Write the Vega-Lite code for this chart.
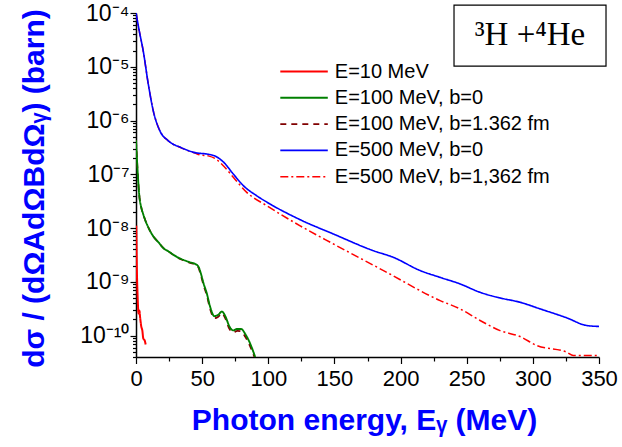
{
  "$schema": "https://vega.github.io/schema/vega-lite/v6.json",
  "width": 463,
  "height": 344,
  "autosize": {"type": "none"},
  "padding": {"left": 136, "top": 13, "right": 23, "bottom": 90},
  "background": "white",
  "config": {
    "font": "Liberation Sans",
    "view": {"stroke": null},
    "axis": {"domainColor": "black", "tickColor": "black", "labelColor": "black", "grid": false, "domainWidth": 1.5, "tickWidth": 1.2}
  },
  "data": {
    "values": [
      {"s": "E=10 MeV", "x": 0.2, "y": 1.11e-8},
      {"s": "E=10 MeV", "x": 0.6, "y": 2.02e-9},
      {"s": "E=10 MeV", "x": 1.2, "y": 5.55e-10},
      {"s": "E=10 MeV", "x": 2.0, "y": 2.57e-10},
      {"s": "E=10 MeV", "x": 2.5, "y": 2.92e-10},
      {"s": "E=10 MeV", "x": 3.2, "y": 2.07e-10},
      {"s": "E=10 MeV", "x": 4.0, "y": 1.47e-10},
      {"s": "E=10 MeV", "x": 4.8, "y": 1.24e-10},
      {"s": "E=10 MeV", "x": 5.5, "y": 8.83e-11},
      {"s": "E=10 MeV", "x": 6.6, "y": 8.1e-11},
      {"s": "E=10 MeV", "x": 7.3, "y": 6.84e-11},

      {"s": "E=500 MeV, b=1,362 fm", "x": 0, "y": 1.0e-4},
      {"s": "E=500 MeV, b=1,362 fm", "x": 2.5, "y": 4.6e-5},
      {"s": "E=500 MeV, b=1,362 fm", "x": 5.5, "y": 1.94e-5},
      {"s": "E=500 MeV, b=1,362 fm", "x": 9.3, "y": 4.75e-6},
      {"s": "E=500 MeV, b=1,362 fm", "x": 13.1, "y": 1.5e-6},
      {"s": "E=500 MeV, b=1,362 fm", "x": 18.1, "y": 6.4e-7},
      {"s": "E=500 MeV, b=1,362 fm", "x": 24.4, "y": 4.2e-7},
      {"s": "E=500 MeV, b=1,362 fm", "x": 34.2, "y": 3.1e-7},
      {"s": "E=500 MeV, b=1,362 fm", "x": 44.6, "y": 2.48e-7},
      {"s": "E=500 MeV, b=1,362 fm", "x": 48.6, "y": 2.29e-7},
      {"s": "E=500 MeV, b=1,362 fm", "x": 54.6, "y": 2.2e-7},
      {"s": "E=500 MeV, b=1,362 fm", "x": 60, "y": 1.95e-7},
      {"s": "E=500 MeV, b=1,362 fm", "x": 66.2, "y": 1.43e-7},
      {"s": "E=500 MeV, b=1,362 fm", "x": 73.7, "y": 8.7e-8},
      {"s": "E=500 MeV, b=1,362 fm", "x": 83.9, "y": 4.57e-8},
      {"s": "E=500 MeV, b=1,362 fm", "x": 99.0, "y": 2.59e-8},
      {"s": "E=500 MeV, b=1,362 fm", "x": 124.1, "y": 1.1e-8},
      {"s": "E=500 MeV, b=1,362 fm", "x": 149.3, "y": 5.05e-9},
      {"s": "E=500 MeV, b=1,362 fm", "x": 187.1, "y": 1.62e-9},
      {"s": "E=500 MeV, b=1,362 fm", "x": 229.9, "y": 4.48e-10},
      {"s": "E=500 MeV, b=1,362 fm", "x": 245.0, "y": 3.14e-10},
      {"s": "E=500 MeV, b=1,362 fm", "x": 260.1, "y": 1.91e-10},
      {"s": "E=500 MeV, b=1,362 fm", "x": 275.2, "y": 1.24e-10},
      {"s": "E=500 MeV, b=1,362 fm", "x": 290.3, "y": 9.6e-11},
      {"s": "E=500 MeV, b=1,362 fm", "x": 302.9, "y": 6.55e-11},
      {"s": "E=500 MeV, b=1,362 fm", "x": 325.6, "y": 4.92e-11},
      {"s": "E=500 MeV, b=1,362 fm", "x": 330.6, "y": 4.27e-11},
      {"s": "E=500 MeV, b=1,362 fm", "x": 348.3, "y": 4.27e-11},

      {"s": "E=500 MeV, b=0", "x": 0, "y": 1.0e-4},
      {"s": "E=500 MeV, b=0", "x": 2.5, "y": 4.6e-5},
      {"s": "E=500 MeV, b=0", "x": 5.5, "y": 1.94e-5},
      {"s": "E=500 MeV, b=0", "x": 9.3, "y": 4.75e-6},
      {"s": "E=500 MeV, b=0", "x": 13.1, "y": 1.5e-6},
      {"s": "E=500 MeV, b=0", "x": 18.1, "y": 6.4e-7},
      {"s": "E=500 MeV, b=0", "x": 24.4, "y": 4.2e-7},
      {"s": "E=500 MeV, b=0", "x": 34.2, "y": 3.13e-7},
      {"s": "E=500 MeV, b=0", "x": 44.6, "y": 2.53e-7},
      {"s": "E=500 MeV, b=0", "x": 54.6, "y": 2.36e-7},
      {"s": "E=500 MeV, b=0", "x": 59.7, "y": 2.19e-7},
      {"s": "E=500 MeV, b=0", "x": 66.0, "y": 1.7e-7},
      {"s": "E=500 MeV, b=0", "x": 73.7, "y": 1.0e-7},
      {"s": "E=500 MeV, b=0", "x": 81.3, "y": 6.1e-8},
      {"s": "E=500 MeV, b=0", "x": 91.4, "y": 3.97e-8},
      {"s": "E=500 MeV, b=0", "x": 101.5, "y": 2.79e-8},
      {"s": "E=500 MeV, b=0", "x": 124.1, "y": 1.43e-8},
      {"s": "E=500 MeV, b=0", "x": 149.3, "y": 7.74e-9},
      {"s": "E=500 MeV, b=0", "x": 179.5, "y": 3.79e-9},
      {"s": "E=500 MeV, b=0", "x": 194.6, "y": 2.85e-9},
      {"s": "E=500 MeV, b=0", "x": 214.8, "y": 1.62e-9},
      {"s": "E=500 MeV, b=0", "x": 229.9, "y": 1.21e-9},
      {"s": "E=500 MeV, b=0", "x": 245.0, "y": 9.15e-10},
      {"s": "E=500 MeV, b=0", "x": 260.1, "y": 6.38e-10},
      {"s": "E=500 MeV, b=0", "x": 275.2, "y": 5.02e-10},
      {"s": "E=500 MeV, b=0", "x": 290.3, "y": 4.17e-10},
      {"s": "E=500 MeV, b=0", "x": 305.5, "y": 3.14e-10},
      {"s": "E=500 MeV, b=0", "x": 325.6, "y": 2.14e-10},
      {"s": "E=500 MeV, b=0", "x": 340.7, "y": 1.54e-10},
      {"s": "E=500 MeV, b=0", "x": 350, "y": 1.48e-10},

      {"s": "E=100 MeV, b=1.362 fm", "x": 0, "y": 4.3e-7},
      {"s": "E=100 MeV, b=1.362 fm", "x": 1, "y": 1.43e-7},
      {"s": "E=100 MeV, b=1.362 fm", "x": 2.5, "y": 4.0e-8},
      {"s": "E=100 MeV, b=1.362 fm", "x": 4, "y": 2.4e-8},
      {"s": "E=100 MeV, b=1.362 fm", "x": 5.5, "y": 1.8e-8},
      {"s": "E=100 MeV, b=1.362 fm", "x": 7, "y": 1.4e-8},
      {"s": "E=100 MeV, b=1.362 fm", "x": 9.3, "y": 1.03e-8},
      {"s": "E=100 MeV, b=1.362 fm", "x": 13.3, "y": 6.9e-9},
      {"s": "E=100 MeV, b=1.362 fm", "x": 16.8, "y": 5.5e-9},
      {"s": "E=100 MeV, b=1.362 fm", "x": 20.9, "y": 4.2e-9},
      {"s": "E=100 MeV, b=1.362 fm", "x": 24.4, "y": 3.7e-9},
      {"s": "E=100 MeV, b=1.362 fm", "x": 31, "y": 2.85e-9},
      {"s": "E=100 MeV, b=1.362 fm", "x": 36, "y": 2.5e-9},
      {"s": "E=100 MeV, b=1.362 fm", "x": 41, "y": 2.25e-9},
      {"s": "E=100 MeV, b=1.362 fm", "x": 44.8, "y": 2.1e-9},
      {"s": "E=100 MeV, b=1.362 fm", "x": 47.3, "y": 1.82e-9},
      {"s": "E=100 MeV, b=1.362 fm", "x": 48.6, "y": 1.45e-9},
      {"s": "E=100 MeV, b=1.362 fm", "x": 51.1, "y": 8.6e-10},
      {"s": "E=100 MeV, b=1.362 fm", "x": 53.6, "y": 5.5e-10},
      {"s": "E=100 MeV, b=1.362 fm", "x": 56.1, "y": 3.1e-10},
      {"s": "E=100 MeV, b=1.362 fm", "x": 59.2, "y": 2.1e-10},
      {"s": "E=100 MeV, b=1.362 fm", "x": 62.2, "y": 2.25e-10},
      {"s": "E=100 MeV, b=1.362 fm", "x": 65.0, "y": 2.6e-10},
      {"s": "E=100 MeV, b=1.362 fm", "x": 67.5, "y": 2.1e-10},
      {"s": "E=100 MeV, b=1.362 fm", "x": 70.5, "y": 1.35e-10},
      {"s": "E=100 MeV, b=1.362 fm", "x": 73.5, "y": 1.15e-10},
      {"s": "E=100 MeV, b=1.362 fm", "x": 76.5, "y": 1.22e-10},
      {"s": "E=100 MeV, b=1.362 fm", "x": 79.5, "y": 1.2e-10},
      {"s": "E=100 MeV, b=1.362 fm", "x": 82.6, "y": 9.5e-11},
      {"s": "E=100 MeV, b=1.362 fm", "x": 86.3, "y": 6.3e-11},
      {"s": "E=100 MeV, b=1.362 fm", "x": 89.5, "y": 4.0e-11},

      {"s": "E=100 MeV, b=0", "x": 0, "y": 4.3e-7},
      {"s": "E=100 MeV, b=0", "x": 1, "y": 1.43e-7},
      {"s": "E=100 MeV, b=0", "x": 2.5, "y": 4.0e-8},
      {"s": "E=100 MeV, b=0", "x": 4, "y": 2.4e-8},
      {"s": "E=100 MeV, b=0", "x": 5.5, "y": 1.8e-8},
      {"s": "E=100 MeV, b=0", "x": 7, "y": 1.4e-8},
      {"s": "E=100 MeV, b=0", "x": 9.3, "y": 1.03e-8},
      {"s": "E=100 MeV, b=0", "x": 13.3, "y": 6.9e-9},
      {"s": "E=100 MeV, b=0", "x": 16.8, "y": 5.5e-9},
      {"s": "E=100 MeV, b=0", "x": 20.9, "y": 4.2e-9},
      {"s": "E=100 MeV, b=0", "x": 24.4, "y": 3.7e-9},
      {"s": "E=100 MeV, b=0", "x": 31, "y": 2.9e-9},
      {"s": "E=100 MeV, b=0", "x": 36, "y": 2.55e-9},
      {"s": "E=100 MeV, b=0", "x": 41, "y": 2.3e-9},
      {"s": "E=100 MeV, b=0", "x": 44.8, "y": 2.15e-9},
      {"s": "E=100 MeV, b=0", "x": 47.3, "y": 1.9e-9},
      {"s": "E=100 MeV, b=0", "x": 48.6, "y": 1.55e-9},
      {"s": "E=100 MeV, b=0", "x": 51.1, "y": 9.3e-10},
      {"s": "E=100 MeV, b=0", "x": 53.6, "y": 6.0e-10},
      {"s": "E=100 MeV, b=0", "x": 56.1, "y": 3.4e-10},
      {"s": "E=100 MeV, b=0", "x": 59.2, "y": 2.3e-10},
      {"s": "E=100 MeV, b=0", "x": 62.2, "y": 2.45e-10},
      {"s": "E=100 MeV, b=0", "x": 65.0, "y": 2.8e-10},
      {"s": "E=100 MeV, b=0", "x": 67.5, "y": 2.3e-10},
      {"s": "E=100 MeV, b=0", "x": 70.5, "y": 1.5e-10},
      {"s": "E=100 MeV, b=0", "x": 73.5, "y": 1.25e-10},
      {"s": "E=100 MeV, b=0", "x": 76.5, "y": 1.33e-10},
      {"s": "E=100 MeV, b=0", "x": 79.5, "y": 1.33e-10},
      {"s": "E=100 MeV, b=0", "x": 82.6, "y": 1.07e-10},
      {"s": "E=100 MeV, b=0", "x": 86.3, "y": 7.1e-11},
      {"s": "E=100 MeV, b=0", "x": 90.1, "y": 4.0e-11}
    ]
  },
  "resolve": {"axis": {"x": "independent", "y": "independent"}},
  "layer": [
    {
      "mark": {"type": "line", "opacity": 0},
      "encoding": {
        "x": {"field": "x", "type": "quantitative",
          "axis": {"orient": "bottom", "values": [25, 75, 125, 175, 225, 275, 325], "tickSize": 4, "labels": false, "domain": false, "title": null}},
        "y": {"field": "y", "type": "quantitative",
          "axis": {"orient": "left", "values": [4e-11, 5e-11, 6e-11, 7e-11, 8e-11, 9e-11, 2e-10, 3e-10, 4e-10, 5e-10, 6e-10, 7e-10, 8e-10, 9e-10, 2e-9, 3e-9, 4e-9, 5e-9, 6e-9, 7e-9, 8e-9, 9e-9, 2e-8, 3e-8, 4e-8, 5e-8, 6e-8, 7e-8, 8e-8, 9e-8, 2e-7, 3e-7, 4e-7, 5e-7, 6e-7, 7e-7, 8e-7, 9e-7, 2e-6, 3e-6, 4e-6, 5e-6, 6e-6, 7e-6, 8e-6, 9e-6, 2e-5, 3e-5, 4e-5, 5e-5, 6e-5, 7e-5, 8e-5, 9e-5], "tickSize": 3.5, "labels": false, "domain": false, "title": null}},
        "detail": {"field": "s"}
      }
    },
    {
      "mark": {"type": "line", "clip": true, "interpolate": "monotone"},
      "encoding": {
        "x": {"field": "x", "type": "quantitative",
          "scale": {"domain": [0, 350], "nice": false, "zero": false},
          "axis": {"orient": "bottom", "values": [0, 50, 100, 150, 200, 250, 300, 350], "tickSize": 6.5, "labelFontSize": 22, "labelPadding": 5, "labelFlush": false,
            "title": "Photon energy, Eᵧ (MeV)", "titleFontSize": 30, "titleFontWeight": "bold", "titleColor": "#0000FF", "titleX": 228, "titleY": 72, "titleBaseline": "alphabetic"}},
        "y": {"field": "y", "type": "quantitative",
          "scale": {"type": "log", "domain": [4e-11, 1e-4], "nice": false},
          "axis": {"orient": "left", "values": [1e-10, 1e-9, 1e-8, 1e-7, 1e-6, 1e-5, 1e-4], "tickSize": 6, "labelFontSize": 23, "labelPadding": 1,
            "labelExpr": "datum.value >= 5e-5 ? '10⁻⁴' : datum.value >= 5e-6 ? '10⁻⁵' : datum.value >= 5e-7 ? '10⁻⁶' : datum.value >= 5e-8 ? '10⁻⁷' : datum.value >= 5e-9 ? '10⁻⁸' : datum.value >= 5e-10 ? '10⁻⁹' : '10⁻¹⁰'",
            "title": "dσ / (dΩAdΩBdΩᵧ) (barn)", "titleFontSize": 30, "titleFontWeight": "bold", "titleColor": "#0000FF", "titleX": -102, "titleY": 175, "titleBaseline": "middle", "titleAngle": -90}},
        "color": {"field": "s", "type": "nominal",
          "scale": {"domain": ["E=10 MeV", "E=100 MeV, b=0", "E=100 MeV, b=1.362 fm", "E=500 MeV, b=0", "E=500 MeV, b=1,362 fm"],
                    "range": ["#FF0000", "#008000", "#800000", "#0000FF", "#FF0000"]},
          "legend": {"orient": "none", "legendX": 143.3, "legendY": 48, "title": null, "padding": 0,
            "labelFontSize": 20, "labelFont": "Liberation Sans", "labelColor": "black", "labelLimit": 400,
            "symbolType": "M-1,0L4,0", "symbolSize": 361, "symbolStrokeWidth": 2, "labelOffset": 34.5, "rowPadding": 5.3}},
        "strokeDash": {"field": "s", "type": "nominal",
          "scale": {"domain": ["E=10 MeV", "E=100 MeV, b=0", "E=100 MeV, b=1.362 fm", "E=500 MeV, b=0", "E=500 MeV, b=1,362 fm"],
                    "range": [[1, 0], [1, 0], [6, 5], [1, 0], [8, 3, 2, 3]]}},
        "strokeWidth": {"field": "s", "type": "nominal",
          "scale": {"domain": ["E=10 MeV", "E=100 MeV, b=0", "E=100 MeV, b=1.362 fm", "E=500 MeV, b=0", "E=500 MeV, b=1,362 fm"],
                    "range": [2, 1.5, 1.5, 1.5, 1.5]}, "legend": null}
      }
    },
    {
      "data": {"values": [{"label": "³H +⁴He"}]},
      "mark": {"type": "rect", "fill": "white", "stroke": "black", "strokeWidth": 1.2},
      "encoding": {
        "x": {"datum": 240.4, "type": "quantitative", "axis": null},
        "x2": {"datum": 355.3},
        "y": {"datum": 1.4e-4, "type": "quantitative", "axis": null},
        "y2": {"datum": 1.03e-5}
      }
    },
    {
      "data": {"values": [{"label": "³H +⁴He"}]},
      "mark": {"type": "text", "font": "Liberation Serif", "fontSize": 33, "color": "black", "align": "center", "baseline": "middle"},
      "encoding": {
        "x": {"datum": 297.8, "type": "quantitative", "axis": null},
        "y": {"datum": 3.85e-5, "type": "quantitative", "axis": null},
        "text": {"field": "label"}
      }
    }
  ]
}
